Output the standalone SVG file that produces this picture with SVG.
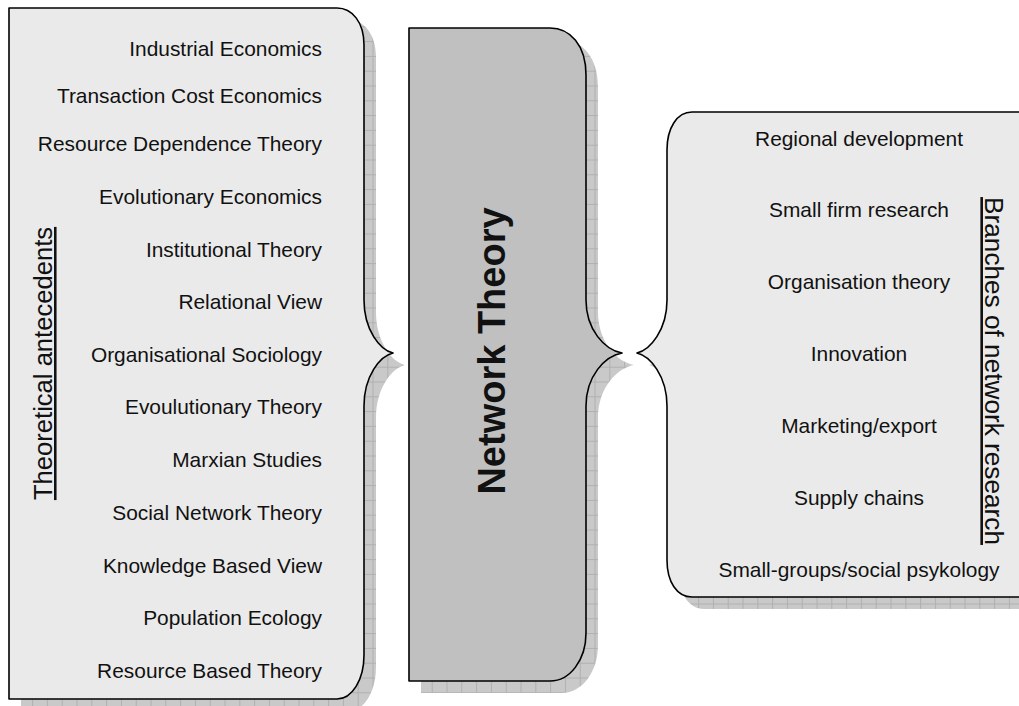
<svg xmlns="http://www.w3.org/2000/svg" width="1019" height="706" viewBox="0 0 1019 706">
  <defs>
    <pattern id="grid" width="14.8" height="14.8" patternUnits="userSpaceOnUse" x="5.3" y="-0.5">
      <rect width="14.8" height="14.8" fill="#c9c9c9"/>
      <path d="M0 0.5 H14.8 M0.5 0 V14.8" stroke="#b0b0b0" stroke-width="1" fill="none"/>
    </pattern>
    <style>
      .shape { stroke: #000; stroke-width: 1.6; stroke-linejoin: round; }
      .light { fill: #eaeaea; }
      .dark { fill: #c0c0c0; }
      .shadow { fill: url(#grid); stroke: none; }
      .item { font-family: "Liberation Sans", Arial, sans-serif; font-size: 20.9px; fill: #111; }
      .left { text-anchor: end; }
      .right { text-anchor: middle; }
      .label { font-family: "Liberation Sans", Arial, sans-serif; font-size: 25.6px; fill: #111; text-anchor: middle; text-decoration: underline; }
      .title { font-family: "Liberation Sans", Arial, sans-serif; font-size: 38px; font-weight: bold; fill: #111; text-anchor: middle; }
    </style>
  </defs>

  <g id="shadows">
    <path class="shadow" transform="translate(12,12)" d="M 9,8 H 337 C 352,8 364,22 364,45 V 300 C 364,330 380,350 393,353 C 380,356 364,376 364,406 V 655 C 364,680 352,699 337,699 H 9 Z"/>
    <path class="shadow" transform="translate(12,12)" d="M 409,28 H 550 C 570,28 586,45 586,75 V 300 C 586,330 605,350 622,353 C 605,356 586,376 586,406 V 633 C 586,660 570,681 550,681 H 409 Z"/>
    <path class="shadow" transform="translate(12,12)" d="M 1060,112 H 692 C 677,112 667,128 667,150 V 300 C 667,330 650,350 637,353 C 650,356 667,376 667,406 V 560 C 667,582 677,597 692,597 H 1060 Z"/>
  </g>

  <g id="node-antecedents">
    <path class="shape light" d="M 9,8 H 337 C 352,8 364,22 364,45 V 300 C 364,330 380,350 393,353 C 380,356 364,376 364,406 V 655 C 364,680 352,699 337,699 H 9 Z"/>
    <text class="label" transform="translate(52,363.5) rotate(-90)">Theoretical antecedents</text>
    <text class="item left" x="322" y="55.7">Industrial Economics</text>
    <text class="item left" x="322" y="103.3">Transaction Cost Economics</text>
    <text class="item left" x="322" y="150.7">Resource Dependence Theory</text>
    <text class="item left" x="322" y="204">Evolutionary Economics</text>
    <text class="item left" x="322" y="256.7">Institutional Theory</text>
    <text class="item left" x="322" y="309.3">Relational View</text>
    <text class="item left" x="322" y="362">Organisational Sociology</text>
    <text class="item left" x="322" y="414">Evoulutionary Theory</text>
    <text class="item left" x="322" y="467.3">Marxian Studies</text>
    <text class="item left" x="322" y="520">Social Network Theory</text>
    <text class="item left" x="322" y="572.7">Knowledge Based View</text>
    <text class="item left" x="322" y="625.3">Population Ecology</text>
    <text class="item left" x="322" y="678">Resource Based Theory</text>
  </g>

  <g id="node-network-theory">
    <path class="shape dark" d="M 409,28 H 550 C 570,28 586,45 586,75 V 300 C 586,330 605,350 622,353 C 605,356 586,376 586,406 V 633 C 586,660 570,681 550,681 H 409 Z"/>
    <text class="title" transform="translate(505,351) rotate(-90)">Network Theory</text>
  </g>

  <g id="node-branches">
    <path class="shape light" d="M 1060,112 H 692 C 677,112 667,128 667,150 V 300 C 667,330 650,350 637,353 C 650,356 667,376 667,406 V 560 C 667,582 677,597 692,597 H 1060 Z"/>
    <text class="label" transform="translate(985,371) rotate(90)" style="font-size:26.2px">Branches of network research</text>
    <text class="item right" x="859" y="145.5">Regional development</text>
    <text class="item right" x="859" y="217.4">Small firm research</text>
    <text class="item right" x="859" y="289.3">Organisation theory</text>
    <text class="item right" x="859" y="361.2">Innovation</text>
    <text class="item right" x="859" y="433.1">Marketing/export</text>
    <text class="item right" x="859" y="505">Supply chains</text>
    <text class="item right" x="859" y="576.9">Small-groups/social psykology</text>
  </g>

  <g id="connectors"/>
</svg>
